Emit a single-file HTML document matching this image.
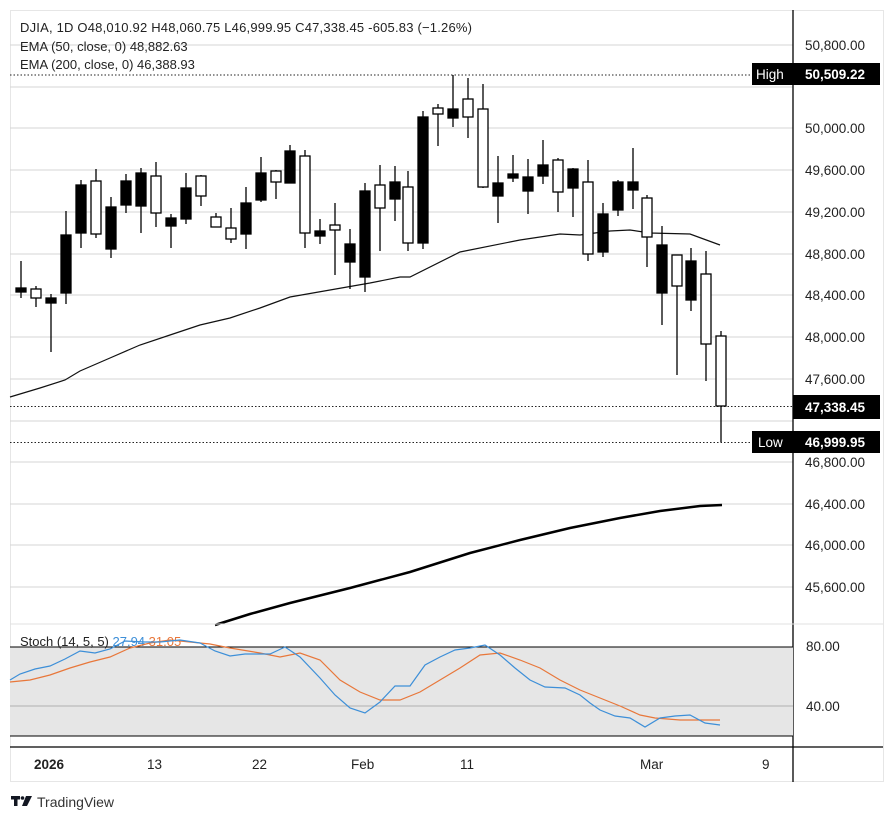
<!DOCTYPE html>
<html><head><meta charset="utf-8"><style>
html,body{margin:0;padding:0;background:#fff;}
svg{display:block;font-family:"Liberation Sans","DejaVu Sans",sans-serif;}
</style></head><body>
<svg width="894" height="821" viewBox="0 0 894 821" xmlns="http://www.w3.org/2000/svg">
<rect width="894" height="821" fill="#fff"/>
<rect x="10.5" y="10.5" width="873" height="771" fill="#fff" stroke="#e6e6e6"/>
<g stroke="#d6d6d6" stroke-width="1">
<line x1="10" y1="45" x2="793" y2="45"/><line x1="10" y1="87" x2="793" y2="87"/>
<line x1="10" y1="128" x2="793" y2="128"/><line x1="10" y1="170" x2="793" y2="170"/>
<line x1="10" y1="212" x2="793" y2="212"/><line x1="10" y1="254" x2="793" y2="254"/>
<line x1="10" y1="295" x2="793" y2="295"/><line x1="10" y1="337" x2="793" y2="337"/>
<line x1="10" y1="379" x2="793" y2="379"/><line x1="10" y1="421" x2="793" y2="421"/>
<line x1="10" y1="462" x2="793" y2="462"/><line x1="10" y1="504" x2="793" y2="504"/>
<line x1="10" y1="545" x2="793" y2="545"/><line x1="10" y1="587" x2="793" y2="587"/>
</g>
<g stroke="#222" stroke-dasharray="1.5,2" stroke-width="1">
<line x1="10" y1="75" x2="752" y2="75"/>
<line x1="10" y1="406.5" x2="793" y2="406.5"/>
<line x1="10" y1="442.5" x2="752" y2="442.5"/>
</g>
<polyline fill="none" stroke="#111" stroke-width="1.2" points="10,397 40,388 65,380 80,371 110,358 140,345 170,335 200,325 230,318 260,308 290,297 330,290 370,283 400,277 410,277 460,252 520,240 560,234 580,235 610,231 630,230 650,233 690,234 720,245"/>
<polyline fill="none" stroke="#000" stroke-width="2.5" points="215,625 250,614 290,603 350,588 410,572 470,553 520,540 570,528 620,518 660,511 700,506 722,505"/>
<g stroke="#000" stroke-width="1.3">
<line x1="21" y1="261" x2="21" y2="298"/><rect x="16" y="288" width="10" height="4" fill="#000"/>
<line x1="36" y1="286" x2="36" y2="307"/><rect x="31" y="289" width="10" height="9" fill="#fff"/>
<line x1="51" y1="294" x2="51" y2="352"/><rect x="46" y="298" width="10" height="5" fill="#000"/>
<line x1="66" y1="211" x2="66" y2="304"/><rect x="61" y="235" width="10" height="58" fill="#000"/>
<line x1="81" y1="180" x2="81" y2="248"/><rect x="76" y="185" width="10" height="48" fill="#000"/>
<line x1="96" y1="169" x2="96" y2="238"/><rect x="91" y="181" width="10" height="53" fill="#fff"/>
<line x1="111" y1="197" x2="111" y2="258"/><rect x="106" y="207" width="10" height="42" fill="#000"/>
<line x1="126" y1="174" x2="126" y2="213"/><rect x="121" y="181" width="10" height="24" fill="#000"/>
<line x1="141" y1="168" x2="141" y2="233"/><rect x="136" y="173" width="10" height="33" fill="#000"/>
<line x1="156" y1="162" x2="156" y2="227"/><rect x="151" y="176" width="10" height="37" fill="#fff"/>
<line x1="171" y1="214" x2="171" y2="248"/><rect x="166" y="218" width="10" height="8" fill="#000"/>
<line x1="186" y1="173" x2="186" y2="224"/><rect x="181" y="188" width="10" height="31" fill="#000"/>
<line x1="201" y1="175" x2="201" y2="206"/><rect x="196" y="176" width="10" height="20" fill="#fff"/>
<line x1="216" y1="213" x2="216" y2="227"/><rect x="211" y="217" width="10" height="10" fill="#fff"/>
<line x1="231" y1="208" x2="231" y2="243"/><rect x="226" y="228" width="10" height="11" fill="#fff"/>
<line x1="246" y1="187" x2="246" y2="249"/><rect x="241" y="203" width="10" height="31" fill="#000"/>
<line x1="261" y1="157" x2="261" y2="202"/><rect x="256" y="173" width="10" height="27" fill="#000"/>
<line x1="276" y1="170" x2="276" y2="199"/><rect x="271" y="171" width="10" height="11" fill="#fff"/>
<line x1="290" y1="145" x2="290" y2="183"/><rect x="285" y="151" width="10" height="32" fill="#000"/>
<line x1="305" y1="150" x2="305" y2="248"/><rect x="300" y="156" width="10" height="77" fill="#fff"/>
<line x1="320" y1="219" x2="320" y2="244"/><rect x="315" y="231" width="10" height="5" fill="#000"/>
<line x1="335" y1="203" x2="335" y2="275"/><rect x="330" y="225" width="10" height="5" fill="#fff"/>
<line x1="350" y1="229" x2="350" y2="289"/><rect x="345" y="244" width="10" height="18" fill="#000"/>
<line x1="365" y1="183" x2="365" y2="292"/><rect x="360" y="191" width="10" height="86" fill="#000"/>
<line x1="380" y1="165" x2="380" y2="251"/><rect x="375" y="185" width="10" height="23" fill="#fff"/>
<line x1="395" y1="166" x2="395" y2="221"/><rect x="390" y="182" width="10" height="17" fill="#000"/>
<line x1="408" y1="171" x2="408" y2="251"/><rect x="403" y="187" width="10" height="56" fill="#fff"/>
<line x1="423" y1="111" x2="423" y2="249"/><rect x="418" y="117" width="10" height="126" fill="#000"/>
<line x1="438" y1="104" x2="438" y2="146"/><rect x="433" y="108" width="10" height="6" fill="#fff"/>
<line x1="453" y1="75" x2="453" y2="127"/><rect x="448" y="109" width="10" height="9" fill="#000"/>
<line x1="468" y1="78" x2="468" y2="138"/><rect x="463" y="99" width="10" height="18" fill="#fff"/>
<line x1="483" y1="84" x2="483" y2="188"/><rect x="478" y="109" width="10" height="78" fill="#fff"/>
<line x1="498" y1="156" x2="498" y2="223"/><rect x="493" y="183" width="10" height="13" fill="#000"/>
<line x1="513" y1="155" x2="513" y2="182"/><rect x="508" y="174" width="10" height="4" fill="#000"/>
<line x1="528" y1="159" x2="528" y2="214"/><rect x="523" y="177" width="10" height="14" fill="#000"/>
<line x1="543" y1="140" x2="543" y2="184"/><rect x="538" y="165" width="10" height="11" fill="#000"/>
<line x1="558" y1="158" x2="558" y2="212"/><rect x="553" y="160" width="10" height="32" fill="#fff"/>
<line x1="573" y1="168" x2="573" y2="217"/><rect x="568" y="169" width="10" height="19" fill="#000"/>
<line x1="588" y1="160" x2="588" y2="261"/><rect x="583" y="182" width="10" height="72" fill="#fff"/>
<line x1="603" y1="203" x2="603" y2="257"/><rect x="598" y="214" width="10" height="38" fill="#000"/>
<line x1="618" y1="180" x2="618" y2="216"/><rect x="613" y="182" width="10" height="28" fill="#000"/>
<line x1="633" y1="148" x2="633" y2="209"/><rect x="628" y="182" width="10" height="8" fill="#000"/>
<line x1="647" y1="195" x2="647" y2="267"/><rect x="642" y="198" width="10" height="39" fill="#fff"/>
<line x1="662" y1="226" x2="662" y2="325"/><rect x="657" y="245" width="10" height="48" fill="#000"/>
<line x1="677" y1="255" x2="677" y2="375"/><rect x="672" y="255" width="10" height="31" fill="#fff"/>
<line x1="691" y1="248" x2="691" y2="311"/><rect x="686" y="261" width="10" height="39" fill="#000"/>
<line x1="706" y1="251" x2="706" y2="381"/><rect x="701" y="274" width="10" height="70" fill="#fff"/>
<line x1="721" y1="331" x2="721" y2="442"/><rect x="716" y="336" width="10" height="70" fill="#fff"/>
</g>
<g font-size="13" fill="#222">
<text x="20" y="32" textLength="452">DJIA, 1D  O48,010.92  H48,060.75  L46,999.95  C47,338.45  -605.83 (−1.26%)</text>
<text x="20" y="51">EMA (50, close, 0)  48,882.63</text>
<text x="20" y="69">EMA (200, close, 0)  46,388.93</text>
</g>
<line x1="793" y1="10" x2="793" y2="782" stroke="#000" stroke-width="1.3"/>
<g font-size="13.5" fill="#222">
<text x="805" y="50">50,800.00</text>
<text x="805" y="133">50,000.00</text><text x="805" y="175">49,600.00</text>
<text x="805" y="217">49,200.00</text><text x="805" y="259">48,800.00</text>
<text x="805" y="300">48,400.00</text><text x="805" y="342">48,000.00</text>
<text x="805" y="384">47,600.00</text>
<text x="805" y="467">46,800.00</text><text x="805" y="509">46,400.00</text>
<text x="805" y="550">46,000.00</text><text x="805" y="592">45,600.00</text>
</g>
<rect x="752" y="63" width="128" height="22" fill="#000"/>
<text x="756" y="79" font-size="13.5" fill="#fff">High</text>
<text x="805" y="79" font-size="13.5" font-weight="bold" fill="#fff">50,509.22</text>
<rect x="793" y="395" width="87" height="24" fill="#000"/>
<text x="805" y="412" font-size="13.5" font-weight="bold" fill="#fff">47,338.45</text>
<rect x="752" y="431" width="128" height="22" fill="#000"/>
<text x="758" y="447" font-size="13.5" fill="#fff">Low</text>
<text x="805" y="447" font-size="13.5" font-weight="bold" fill="#fff">46,999.95</text>
<line x1="10" y1="624" x2="883" y2="624" stroke="#e0e0e0"/>
<rect x="10" y="647" width="783" height="89" fill="#e6e6e6"/>
<line x1="10" y1="647" x2="793" y2="647" stroke="#000" stroke-width="1"/>
<line x1="10" y1="736" x2="793" y2="736" stroke="#000" stroke-width="1"/>
<line x1="10" y1="706" x2="793" y2="706" stroke="#b0b0b0" stroke-width="1"/>
<text x="20" y="646" font-size="13" fill="#222">Stoch (14, 5, 5) <tspan fill="#3d8fd8">27.94</tspan> <tspan fill="#e8773a">31.05</tspan></text>
<polyline fill="none" stroke="#e8773a" stroke-width="1.2" points="10,682 30,680 50,675 70,668 90,662 110,657 130,648 150,643 170,640 190,642 210,644 230,648 260,653 280,657 300,653 320,660 340,680 360,692 380,700 400,700 420,692 440,680 460,668 480,655 500,653 520,660 540,668 560,680 580,690 600,698 620,706 640,715 655,718 680,720 720,720"/>
<polyline fill="none" stroke="#3d8fd8" stroke-width="1.2" points="10,680 20,674 35,669 50,666 65,659 80,651 95,653 110,649 125,641 145,642 160,642 180,640 200,643 215,651 230,656 245,654 270,654 285,647 300,657 320,678 335,695 350,708 365,713 380,702 395,686 410,686 425,665 440,657 455,650 470,648 485,645 500,655 515,668 530,680 545,687 565,688 580,695 590,703 600,710 615,716 630,718 645,727 660,718 675,716 690,715 705,723 720,725"/>
<text x="806" y="651" font-size="13.5" fill="#222">80.00</text>
<text x="806" y="711" font-size="13.5" fill="#222">40.00</text>
<line x1="10" y1="747" x2="883" y2="747" stroke="#000" stroke-width="1.3"/>
<g font-size="13.5" fill="#222">
<text x="34" y="769" font-weight="bold">2026</text>
<text x="147" y="769">13</text><text x="252" y="769">22</text>
<text x="351" y="769">Feb</text><text x="460" y="769">11</text>
<text x="640" y="769">Mar</text><text x="762" y="769">9</text>
</g>
<g fill="#131722">
<rect x="11" y="796" width="9" height="3.5"/><rect x="14" y="796" width="3.5" height="10"/>
<circle cx="22.5" cy="798" r="1.8"/><polygon points="26,796 32,796 27,806 22,806"/>
</g>
<text x="37" y="807" font-size="14" fill="#333">TradingView</text>
</svg>
</body></html>
